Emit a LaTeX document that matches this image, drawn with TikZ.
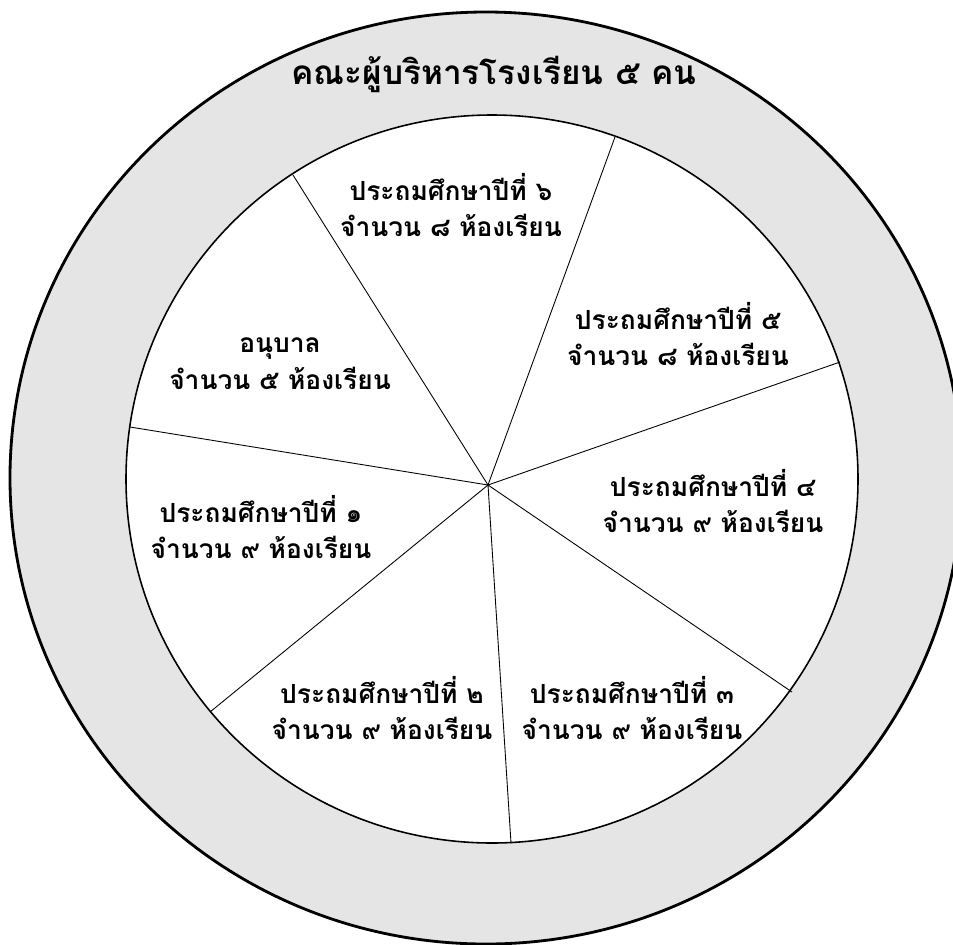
\documentclass[tikz,border=0pt]{standalone}
\usepackage{fontspec}
\newfontfamily\thaifont[Script=Thai]{Loma}
\definecolor{ringgray}{RGB}{229,229,229}
\usetikzlibrary{positioning, calc}

\begin{document}
\begin{tikzpicture}[x=0.02cm, y=-0.02cm,
    label/.style={align=center, font=\thaifont\bfseries\fontsize{15}{21}\selectfont},
    spoke/.style={draw=black, line width=0.5pt}]
  \useasboundingbox (0,0) rectangle (953,944);
  % outer ring and pie
  \draw[fill=ringgray, line width=1.6pt] (486,478) ellipse [x radius=476, y radius=466];
  \draw[fill=white, line width=0.9pt] (492,479) ellipse [x radius=366, y radius=364];
  \coordinate (hub) at (488,485);
  \coordinate (e1) at (293,175);
  \coordinate (e2) at (615,137);
  \coordinate (e3) at (840,362);
  \coordinate (e4) at (792,692);
  \coordinate (e5) at (511,843);
  \coordinate (e6) at (210,712);
  \coordinate (e7) at (130,427);
  \foreach \e in {e1,e2,e3,e4,e5,e6,e7}
    \draw[spoke] (hub) -- (\e);
  % texts
  \node[font=\thaifont\bfseries\fontsize{19}{24}\selectfont] (title) at (494,74) {คณะผู้บริหารโรงเรียน ๕ คน};
  \node[label] (p6) at (451,205) {ประถมศึกษาปีที่ ๖\\จำนวน ๘ ห้องเรียน};
  \node[label] (p5) at (678,334) {ประถมศึกษาปีที่ ๕\\จำนวน ๘ ห้องเรียน};
  \node[label] (kinder) at (280,364) {อนุบาล\\จำนวน ๕ ห้องเรียน};
  \node[label] (p4) at (713,501) {ประถมศึกษาปีที่ ๔\\จำนวน ๙ ห้องเรียน};
  \node[label] (p1) at (261,527) {ประถมศึกษาปีที่ ๑\\จำนวน ๙ ห้องเรียน};
  \node[label] (p2) at (382,708) {ประถมศึกษาปีที่ ๒\\จำนวน ๙ ห้องเรียน};
  \node[label] (p3) at (632,708) {ประถมศึกษาปีที่ ๓\\จำนวน ๙ ห้องเรียน};
\end{tikzpicture}
\end{document}
